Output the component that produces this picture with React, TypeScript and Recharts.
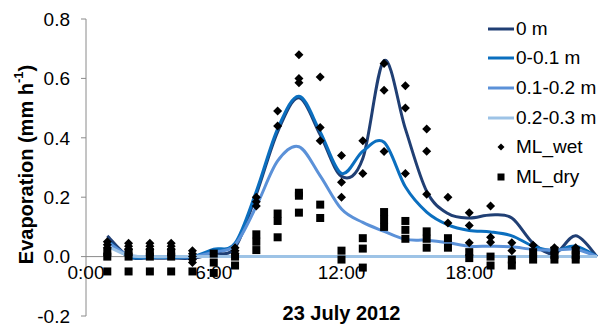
import React from 'react';
import {
  ComposedChart,
  Line,
  Scatter,
  XAxis,
  YAxis,
  ReferenceLine,
  Legend,
} from 'recharts';

// ---------- data ----------
const hours = [1, 2, 3, 4, 5, 6, 7, 8, 9, 10, 11, 12, 13, 14, 15, 16, 17, 18, 19, 20, 21, 22, 23, 24];

const seriesNames = ['0 m', '0-0.1 m', '0.1-0.2 m', '0.2-0.3 m'];

const depth0 = [0.07, 0.0, -0.005, -0.005, -0.005, 0.01, 0.03, 0.21, 0.42, 0.535, 0.41, 0.27, 0.33, 0.66, 0.43, 0.22, 0.145, 0.13, 0.14, 0.13, 0.045, 0.01, 0.07, 0.0];
const depth01 = [0.055, 0.0, -0.003, -0.003, 0.0, 0.025, 0.045, 0.22, 0.43, 0.54, 0.42, 0.28, 0.355, 0.385, 0.235, 0.15, 0.107, 0.088, 0.083, 0.07, 0.035, 0.02, 0.035, 0.0];
const depth12 = [0.05, 0.005, 0.0, 0.0, 0.0, 0.015, 0.04, 0.17, 0.322, 0.37, 0.272, 0.16, 0.115, 0.085, 0.058, 0.055, 0.047, 0.035, 0.035, 0.033, 0.024, 0.022, 0.025, 0.0];
const depth23 = [0.035, 0.004, 0.0, 0.0, 0.0, 0.0, 0.0, 0.0, 0.0, 0.0, 0.0, 0.0, 0.0, 0.0, 0.0, 0.0, 0.0, 0.0, 0.0, 0.0, 0.0, 0.0, 0.0, 0.0];

const scatterHours = [1, 2, 3, 4, 5, 6, 7, 8, 9, 10, 11, 12, 13, 14, 15, 16, 17, 18, 19, 20, 21, 22, 23];

const mlWet: number[][] = [
  [0.05, 0.04, 0.03],
  [0.045, 0.035, 0.025],
  [0.045, 0.035, 0.025],
  [0.045, 0.035, 0.025],
  [0.02, 0.01, 0.0, -0.01, -0.02],
  [],
  [0.03, 0.02, 0.01],
  [0.2, 0.185, 0.17],
  [0.49, 0.44],
  [0.68, 0.6, 0.585],
  [0.605, 0.435, 0.39],
  [0.34, 0.25, 0.2],
  [0.39, 0.28],
  [0.65, 0.56, 0.354],
  [0.575, 0.5, 0.28],
  [0.43, 0.355, 0.21],
  [0.2, 0.113],
  [0.148, 0.105, 0.047],
  [0.17, 0.065, 0.048],
  [0.047, 0.02],
  [0.038],
  [0.03],
  [0.03],
];

const mlDry: number[][] = [
  [0.015, 0.0, -0.05],
  [0.015, 0.0, -0.05],
  [0.015, 0.0, -0.05],
  [0.015, 0.0, -0.05],
  [-0.05],
  [0.01, -0.02, -0.055],
  [0.0, -0.03],
  [0.075, 0.05, 0.022],
  [0.145, 0.12, 0.065],
  [0.215, 0.205, 0.148],
  [0.175, 0.13],
  [0.02, -0.01],
  [0.062, 0.027, -0.037],
  [0.15, 0.125, 0.1],
  [0.12, 0.09, 0.06],
  [0.085, 0.06, 0.03],
  [0.062, 0.03],
  [0.015, -0.005],
  [0.0, -0.03],
  [-0.01, -0.03],
  [0.015, -0.01],
  [0.02, 0.005, -0.01],
  [0.02, 0.005, -0.01],
];

const xTicks = [0, 6, 12, 18];
const yTicks = [-0.2, 0, 0.2, 0.4, 0.6, 0.8];

// ---------- layout / style ----------
const W = 602;
const H = 328;
const M_TOP = 19;
const M_RIGHT = 5;
const X_AXIS_H = 12;
const Y_AXIS_W = 86;
const PLOT_H = H - M_TOP - X_AXIS_H;
const Y_MIN = -0.2;
const Y_MAX = 0.8;
const FONT = '"Liberation Sans", Arial, Helvetica, sans-serif';
const AXIS_GREY = '#8a8a8a';
const lineColors = ['#203F74', '#0B6FBF', '#5B91D8', '#9DC3E6'];

const lineData = hours.map((h, i) => ({
  h,
  s0: depth0[i],
  s1: depth01[i],
  s2: depth12[i],
  s3: depth23[i],
}));
const lineKeys = ['s0', 's1', 's2', 's3'];

const wetPoints = mlWet.flatMap((vals, i) => vals.map((v) => ({ h: scatterHours[i], v })));
const dryPoints = mlDry.flatMap((vals, i) => vals.map((v) => ({ h: scatterHours[i], v })));

// Excel-like smoothed line (Catmull-Rom as cubic Bezier)
const excelSmooth: any = (context: any) => {
  let pts: number[][] = [];
  return {
    areaStart() {},
    areaEnd() {},
    lineStart() {
      pts = [];
    },
    point(x: number, y: number) {
      pts.push([+x, +y]);
    },
    lineEnd() {
      const n = pts.length;
      if (!n) return;
      context.moveTo(pts[0][0], pts[0][1]);
      for (let i = 0; i < n - 1; i++) {
        const p0 = pts[i - 1] || pts[i];
        const p1 = pts[i];
        const p2 = pts[i + 1];
        const p3 = pts[i + 2] || p2;
        context.bezierCurveTo(
          p1[0] + (p2[0] - p0[0]) / 6,
          p1[1] + (p2[1] - p0[1]) / 6,
          p2[0] - (p3[0] - p1[0]) / 6,
          p2[1] - (p3[1] - p1[1]) / 6,
          p2[0],
          p2[1]
        );
      }
    },
  };
};

const fmtHour = (h: number) => `${h}:00`;

const XTick = (props: any) => {
  const { x, payload } = props;
  const zeroY = M_TOP + (PLOT_H * (Y_MAX - 0)) / (Y_MAX - Y_MIN);
  return (
    <text x={x} y={zeroY + 22} textAnchor="middle" fill="#000" fontSize={19} fontFamily={FONT}>
      {fmtHour(payload.value)}
    </text>
  );
};

const YTitle = (props: any) => {
  const vb = props.viewBox || { x: 0, y: M_TOP, width: Y_AXIS_W, height: PLOT_H };
  const cx = vb.x + 26;
  const cy = vb.y + vb.height / 2 - 3;
  return (
    <text
      x={cx}
      y={cy}
      transform={`rotate(-90, ${cx}, ${cy})`}
      textAnchor="middle"
      dominantBaseline="central"
      fontSize={20}
      fontWeight="bold"
      fontFamily={FONT}
      fill="#000"
    >
      Evaporation (mm h
      <tspan dy={-8} fontSize={13}>
        -1
      </tspan>
      <tspan dy={8}>)</tspan>
    </text>
  );
};

const Diamond = (props: any) => {
  const { cx, cy } = props;
  if (cx == null || cy == null) return null;
  const r = 4.5;
  return <polygon points={`${cx},${cy - r} ${cx + r},${cy} ${cx},${cy + r} ${cx - r},${cy}`} fill="#000" />;
};

const Square = (props: any) => {
  const { cx, cy } = props;
  if (cx == null || cy == null) return null;
  const s = 8;
  return <rect x={cx - s / 2} y={cy - s / 2} width={s} height={s} fill="#000" />;
};

const LegendBox = () => {
  const rowH = 29.6;
  const items = [
    ...seriesNames.map((n, i) => ({ name: n, kind: 'line', color: lineColors[i] })),
    { name: 'ML_wet', kind: 'diamond', color: '#000' },
    { name: 'ML_dry', kind: 'square', color: '#000' },
  ];
  return (
    <div style={{ fontFamily: FONT, fontSize: 19, color: '#000' }}>
      {items.map((it) => (
        <div key={it.name} style={{ height: rowH, display: 'flex', alignItems: 'center', whiteSpace: 'nowrap' }}>
          <svg width={30} height={20} style={{ display: 'block' }}>
            {it.kind === 'line' && <line x1={2} y1={10} x2={28} y2={10} stroke={it.color} strokeWidth={3} />}
            {it.kind === 'diamond' && <polygon points="15,6.5 18.5,10 15,13.5 11.5,10" fill="#000" />}
            {it.kind === 'square' && <rect x={11.5} y={6.5} width={7} height={7} fill="#000" />}
          </svg>
          <span style={{ lineHeight: '20px' }}>{it.name}</span>
        </div>
      ))}
    </div>
  );
};

export default function App() {
  return (
    <div style={{ position: 'absolute', left: 0, top: 0, width: W, height: H, background: '#fff' }}>
      <ComposedChart
        width={W}
        height={H}
        data={lineData}
        margin={{ top: M_TOP, right: M_RIGHT, bottom: 0, left: 0 }}
      >
        <XAxis
          dataKey="h"
          type="number"
          domain={[0, 24]}
          ticks={xTicks}
          interval={0}
          height={X_AXIS_H}
          axisLine={false}
          tickLine={false}
          tick={(p: any) => <XTick {...p} />}
          label={{
            value: '23 July 2012',
            position: 'insideBottom',
            offset: 8,
            fill: '#000',
            fontSize: 20,
            fontWeight: 'bold',
            fontFamily: FONT,
          }}
        />
        <YAxis
          type="number"
          domain={[Y_MIN, Y_MAX]}
          ticks={yTicks}
          width={Y_AXIS_W}
          allowDataOverflow
          stroke={AXIS_GREY}
          tickSize={5}
          tickMargin={11}
          tick={{ fill: '#000', fontSize: 19, fontFamily: FONT }}
          tickFormatter={(v: number) => v.toFixed(1)}
          label={(p: any) => <YTitle {...p} />}
        />
        <ReferenceLine y={0} stroke={AXIS_GREY} strokeWidth={1} />
        {lineKeys.map((k, i) => (
          <Line
            key={k}
            dataKey={k}
            name={seriesNames[i]}
            type={excelSmooth}
            stroke={lineColors[i]}
            strokeWidth={3}
            dot={false}
            activeDot={false}
            isAnimationActive={false}
          />
        ))}
        <Scatter name="ML_wet" data={wetPoints} dataKey="v" shape={(p: any) => <Diamond {...p} />} isAnimationActive={false} />
        <Scatter name="ML_dry" data={dryPoints} dataKey="v" shape={(p: any) => <Square {...p} />} isAnimationActive={false} />
        <Legend
          layout="vertical"
          align="center"
          verticalAlign="middle"
          content={() => <LegendBox />}
          wrapperStyle={{ left: 486, top: 14, width: 116, height: 180 }}
        />
      </ComposedChart>
    </div>
  );
}
